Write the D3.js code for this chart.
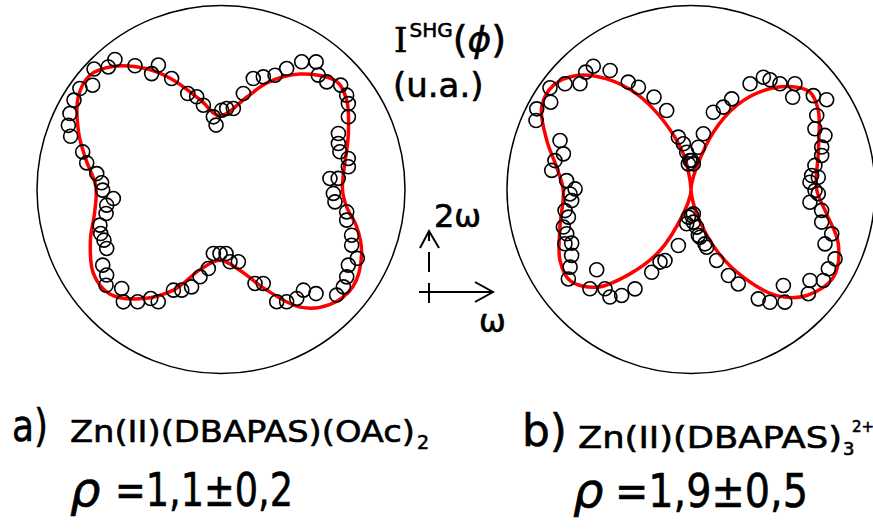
<!DOCTYPE html>
<html><head><meta charset="utf-8">
<script src="https://cdn.jsdelivr.net/npm/d3@7"></script>
<style>html,body{margin:0;padding:0;background:#fff;} text{font-family:"DejaVu Sans",sans-serif;fill:#000;}</style>
</head><body><svg id="c" width="873" height="529"></svg>
<script>
// ---- Data: polar SHG intensity (normalized to outer circle = 1), angles in degrees (ccw from ω axis) ----
// a) Zn(II)(DBAPAS)(OAc)2 — fitted curve
const fitPhiA = [0,23.7,35.4,43,55.6,66.7,74.5,90.8,103,113.6,121.6,131.3,138.9,147,158.6,167.7,178.8,190.8,201,213.3,223,233.4,244.7,255.4,269,283,294.4,303.9,313.3,323.7,335.5,344.6,352];
const fitIA   = [0.66,0.756,0.838,0.86,0.76,0.63,0.52,0.40,0.50,0.65,0.77,0.89,0.945,0.925,0.83,0.75,0.68,0.70,0.76,0.83,0.83,0.74,0.605,0.45,0.385,0.45,0.60,0.77,0.86,0.89,0.84,0.765,0.69];
// a) measured points
const dataPhiA = [129.2,132.6,136.5,140.9,144.4,148.7,153.3,157.2,160.5,164.8,168.8,172.7,176.8,180.3,184.8,187.8,191.8,196.4,200.1,203.4,207.3,212.6,216.8,219.8,224.9,229.0,233.4,237.2,240.8,244.7,248.7,253.2,256.5,260.9,263.2,269.1,274.5,277.1,283.5,289.9,294.2,296.4,300.3,304.8,309.3,312.4,317.6,321.5,325.2,329.3,333.2,336.9,340.7,346.3,349.9,353.8,358.0,5.8,5.4,10.1,13.7,17.6,21.4,25.5,29.7,34.0,36.9,41.1,45.5,49.6,53.3,57.7,61.5,64.7,69.4,73.8,76.9,81.3,86.0,89.5,96.0,94.4,101.8,104.7,109.1,114.0,116.7,120.9,124.8];
const dataIA   = [0.912,0.905,0.951,0.899,0.943,0.935,0.919,0.900,0.867,0.779,0.744,0.681,0.650,0.643,0.587,0.627,0.638,0.686,0.696,0.693,0.699,0.763,0.776,0.813,0.762,0.809,0.760,0.705,0.699,0.605,0.587,0.553,0.488,0.435,0.350,0.348,0.349,0.396,0.404,0.543,0.560,0.681,0.707,0.721,0.707,0.766,0.851,0.850,0.832,0.805,0.830,0.772,0.752,0.703,0.694,0.623,0.611,0.595,0.640,0.703,0.712,0.678,0.685,0.707,0.797,0.835,0.854,0.863,0.820,0.816,0.865,0.821,0.748,0.687,0.654,0.628,0.536,0.445,0.441,0.431,0.397,0.351,0.468,0.521,0.552,0.660,0.757,0.734,0.819];
// b) Zn(II)(DBAPAS)3 2+ — fitted curve
const fitPhiB = [0,17,31.8,39.3,46.1,53.8,61.5,68.7,75.8,84,90,96,102.1,111.9,119.6,127.3,135.1,142.9,151.1,161.2,170.6,180.4,196,208.5,217,226,234.1,243.1,252.5,264,270,276,283.1,292.8,300.8,308.9,317.5,328.4,339.8,349.8];
const fitIB   = [0.683,0.724,0.814,0.835,0.776,0.666,0.520,0.334,0.125,0.03,0,0.05,0.198,0.404,0.598,0.756,0.878,0.938,0.927,0.828,0.740,0.694,0.741,0.810,0.823,0.738,0.566,0.372,0.139,0.03,0,0.03,0.136,0.360,0.555,0.741,0.853,0.909,0.853,0.749];
// b) measured points
const dataPhiB = [128.4,124.2,131.9,136.4,140.0,144.2,148.1,152.4,156.0,120.3,117.2,111.8,107.1,103.6,99.5,96.6,92.0,84.8,275.5,264.5,262.8,278.6,279.1,284.4,257.3,249.9,246.9,244.6,240.6,236.8,233.0,229.1,220.4,224.5,216.1,212.7,208.9,203.3,204.2,199.6,196.4,192.7,189.5,185.3,182.1,179.7,175.9,172.2,164.4,159.5,168.0,77.5,80.2,73.9,68.6,65.8,60.8,57.2,54.2,49.9,45.5,42.2,37.5,33.5,30.5,26.1,22.0,18.0,14.6,11.0,6.6,5.5,3.5,359.5,358.1,353.9,350.9,346.0,342.5,337.9,334.3,330.0,325.5,322.6,318.4,313.9,309.8,305.0,301.6,296.6,293.5,289.9,285.2,280.7,274.1,271.5,88.7,95.9];
const dataIB   = [0.855,0.782,0.857,0.833,0.894,0.945,0.898,0.946,0.922,0.676,0.625,0.541,0.449,0.293,0.252,0.204,0.158,0.140,0.133,0.151,0.188,0.207,0.253,0.305,0.312,0.411,0.429,0.498,0.620,0.688,0.732,0.714,0.673,0.770,0.825,0.781,0.741,0.746,0.711,0.717,0.723,0.683,0.694,0.651,0.658,0.630,0.678,0.764,0.720,0.760,0.756,0.310,0.233,0.437,0.481,0.540,0.658,0.726,0.735,0.751,0.806,0.746,0.838,0.884,0.793,0.750,0.785,0.747,0.734,0.686,0.660,0.695,0.648,0.674,0.692,0.650,0.719,0.732,0.802,0.786,0.869,0.862,0.873,0.814,0.853,0.724,0.797,0.748,0.698,0.574,0.510,0.410,0.325,0.264,0.178,0.141,0.158,0.140];

const labelA = "a)", formulaA = "Zn(II)(DBAPAS)(OAc)", subA = "2", rhoA = "=1,1±0,2";
const labelB = "b)", formulaB = "Zn(II)(DBAPAS)", subB = "3", supB = "2+", rhoB = "=1,9±0,5";

// ---- Drawing ----
const svg = d3.select("#c");
const R = 184;
const rScale = d3.scaleLinear().domain([0,1]).range([0,R]);
const aScale = d3.scaleLinear().domain([0,360]).range([Math.PI/2, Math.PI/2 - 2*Math.PI]);

function polarPlot(cx, cy, fitPhi, fitI, dPhi, dI){
  const g = svg.append("g").attr("transform", `translate(${cx},${cy})`);
  g.append("circle").attr("r", rScale(1)).attr("fill","none").attr("stroke","#000").attr("stroke-width",1.5);
  const fit = fitPhi.map((p,i)=>({p, v:fitI[i]}));
  const line = d3.lineRadial().angle(d=>aScale(d.p)).radius(d=>rScale(d.v)).curve(d3.curveCatmullRomClosed.alpha(0.5));
  g.append("path").attr("d", line(fit)).attr("fill","none").attr("stroke","#ff0000").attr("stroke-width",3.5).attr("stroke-linejoin","round");
  const pts = dPhi.map((p,i)=>d3.pointRadial(aScale(p), rScale(dI[i])));
  g.selectAll("circle.pt").data(pts).join("circle").attr("class","pt")
    .attr("cx",d=>d[0]).attr("cy",d=>d[1]).attr("r",7)
    .attr("fill","none").attr("stroke","#000").attr("stroke-width",1.6);
}
polarPlot(221, 189.5, fitPhiA, fitIA, dataPhiA, dataIA);
polarPlot(691, 189.5, fitPhiB, fitIB, dataPhiB, dataIB);

const bold = sel => sel.attr("stroke","#000").attr("stroke-width",0.6);

// title I^SHG(phi) (u.a.)
const t1 = bold(svg.append("text").attr("x",394).attr("y",52).attr("font-size",34));
t1.append("tspan").text("I").attr("font-family","DejaVu Serif");
t1.append("tspan").text("SHG").attr("font-size",20).attr("dy",-15).attr("dx",2);
t1.append("tspan").text("(").attr("dy",15).attr("font-size",38);
t1.append("tspan").text("ϕ").attr("font-style","italic").attr("font-size",36);
t1.append("tspan").text(")").attr("font-size",38);
bold(svg.append("text").attr("x",393).attr("y",97).attr("font-size",34).text("(u.a.)"));

// axis arrows
const ax = svg.append("g").attr("stroke","#000").attr("stroke-width",2).attr("fill","none");
ax.append("line").attr("x1",429).attr("y1",303).attr("x2",429).attr("y2",233).attr("stroke-dasharray","20,11");
ax.append("path").attr("d","M420,248 L429,231 L439,248");
ax.append("line").attr("x1",419).attr("y1",292).attr("x2",492).attr("y2",292);
ax.append("path").attr("d","M475,282 L493,292 L475,302");
bold(svg.append("text").attr("x",434).attr("y",227).attr("font-size",32).text("2ω"));
bold(svg.append("text").attr("x",479).attr("y",332).attr("font-size",32).text("ω"));

// bottom labels a
bold(svg.append("text").attr("x",12).attr("y",441).attr("font-size",44)
  .attr("textLength",36).attr("lengthAdjust","spacingAndGlyphs").text(labelA));
bold(svg.append("text").attr("x",70).attr("y",442).attr("font-size",31)
  .attr("textLength",345).attr("lengthAdjust","spacingAndGlyphs").text(formulaA));
bold(svg.append("text").attr("x",417).attr("y",449).attr("font-size",19).text(subA));
bold(svg.append("text").attr("x",70).attr("y",506).attr("font-size",48).attr("font-style","italic").text("ρ"));
bold(svg.append("text").attr("x",115).attr("y",506).attr("font-size",46)
  .attr("textLength",178).attr("lengthAdjust","spacingAndGlyphs").text(rhoA));
// bottom labels b
bold(svg.append("text").attr("x",522).attr("y",446).attr("font-size",44)
  .attr("textLength",45).attr("lengthAdjust","spacingAndGlyphs").text(labelB));
bold(svg.append("text").attr("x",578).attr("y",448).attr("font-size",31)
  .attr("textLength",264).attr("lengthAdjust","spacingAndGlyphs").text(formulaB));
bold(svg.append("text").attr("x",843).attr("y",455).attr("font-size",18).text(subB));
bold(svg.append("text").attr("x",852).attr("y",432).attr("font-size",15).text(supB));
bold(svg.append("text").attr("x",573).attr("y",507).attr("font-size",48).attr("font-style","italic").text("ρ"));
bold(svg.append("text").attr("x",615).attr("y",507).attr("font-size",46)
  .attr("textLength",193).attr("lengthAdjust","spacingAndGlyphs").text(rhoB));
</script></body></html>
